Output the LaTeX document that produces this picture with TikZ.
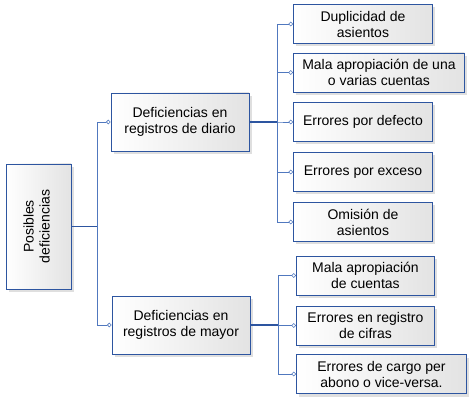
\documentclass[tikz,border=0pt]{standalone}
\usepackage{fontspec}
\setmainfont{Liberation Sans}
\usepackage{graphicx}
\usetikzlibrary{arrows.meta,shadows}
\definecolor{boxcolor}{RGB}{45,85,160}
\definecolor{linkcolor}{RGB}{80,120,190}
\tikzset{
  topic/.style = {draw=boxcolor, line width=0.9pt, left color=white, right color=gray!22,
                  align=center, inner sep=0pt, font=\fontsize{14}{16}\selectfont,
                  drop shadow={shadow xshift=3pt, shadow yshift=-3pt, opacity=0.25}},
  branch/.style = {topic, minimum width=138pt, minimum height=58pt},
  leaf/.style   = {topic, anchor=west, minimum height=39pt},
  conn/.style   = {-{Circle[open,length=4.5pt,width=4.5pt,line width=0.6pt]},
                   line width=0.7pt, draw=linkcolor},
  stub/.style   = {line width=1.3pt, draw=boxcolor}
}
\begin{document}
\begin{tikzpicture}[x=1pt,y=-1pt]
\useasboundingbox (0,0) rectangle (476,403);

% --- root and main branches ---
\node[topic, minimum width=65pt, minimum height=125pt] (root) at (38.5,226.5)
  {\rotatebox{90}{\begin{tabular}{c}Posibles\\deficiencias\end{tabular}}};
\node[branch] (diario) at (180,122) {Deficiencias en\\registros de diario};
\node[branch] (mayor) at (181,325) {Deficiencias en\\registros de mayor};

% --- leaves of diario ---
\foreach \y/\w/\txt [count=\i] in {24/139/{Duplicidad de\\asientos},
    72.5/171/{Mala apropiación de una\\o varias cuentas},
    122/139/{Errores por defecto}, 172/139/{Errores por exceso},
    222/139/{Omisión de\\asientos}}{
  \node[leaf, minimum width=\w pt] (d\i) at (293,\y) {\txt};
  \draw[conn] (diario.east) -- ++(28pt,0) |- (d\i.west);
}

% --- leaves of mayor ---
\foreach \y/\w/\txt [count=\i] in {275.5/138/{Mala apropiación\\de cuentas},
    325.5/138/{Errores en registro\\de cifras},
    374/170/{Errores de cargo per\\abono o vice-versa.}}{
  \node[leaf, minimum width=\w pt] (m\i) at (296,\y) {\txt};
  \draw[conn] (mayor.east) -- ++(28pt,0) |- (m\i.west);
}

% --- root to branches ---
\foreach \b in {diario,mayor}
  \draw[conn] (root.east) -- ++(26pt,0) |- (\b.west);

% --- stubs ---
\draw[stub] (root.east) -- ++(26pt,0);
\draw[stub] (diario.east) -- ++(28pt,0);
\draw[stub] (mayor.east) -- ++(28pt,0);

\end{tikzpicture}
\end{document}
